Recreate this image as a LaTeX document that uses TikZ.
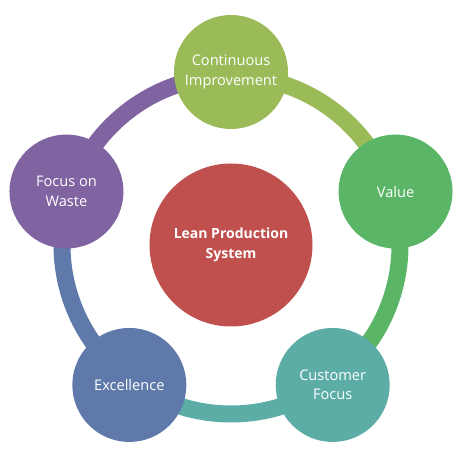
\documentclass[tikz,border=0pt]{standalone}
\usepackage{fontspec}
\setmainfont{Open Sans}
\usetikzlibrary{backgrounds}
\definecolor{cgreen}{HTML}{9BBB59}
\definecolor{cvalue}{HTML}{5AB567}
\definecolor{cteal}{HTML}{5BADA6}
\definecolor{cblue}{HTML}{5F7AAA}
\definecolor{cpurple}{HTML}{8064A2}
\definecolor{cred}{HTML}{C0504D}
\begin{document}
\begin{tikzpicture}[
  bubble/.style={circle, minimum size=114pt, inner sep=0pt, text=white, align=center,
    font=\fontsize{14.6}{19.5}\selectfont},
  hub/.style={circle, fill=cred, minimum size=163pt, inner sep=0pt, text=white, align=center,
    font=\bfseries\fontsize{14}{19.5}\selectfont},
  ring/.style={line width=17pt}
]
\useasboundingbox (0,0) rectangle (460pt,449pt);
\coordinate (c) at (231pt,204pt);
\node[hub] (hub) at (c) {Lean Production\\System};
\node[bubble, fill=cgreen] (ci) at ([shift={(90:173pt)}]c) {Continuous\\Improvement};
\node[bubble, fill=cvalue] (val) at ([shift={(18:173pt)}]c) {Value};
\node[bubble, fill=cteal] (cf) at ([shift={(-54:173pt)}]c) {Customer\\Focus};
\node[bubble, fill=cblue] (ex) at ([shift={(-126:173pt)}]c) {Excellence};
\node[bubble, fill=cpurple] (fw) at ([shift={(162:173pt)}]c) {Focus on\\Waste};
\begin{scope}[on background layer]
\draw[ring, cgreen] (hub.center) ++(90:169pt) arc[start angle=90, end angle=18, radius=169pt];
\draw[ring, cvalue] (hub.center) ++(18:169pt) arc[start angle=18, end angle=-54, radius=169pt];
\draw[ring, cteal] (hub.center) ++(-54:169pt) arc[start angle=-54, end angle=-126, radius=169pt];
\draw[ring, cblue] (hub.center) ++(-126:169pt) arc[start angle=-126, end angle=-198, radius=169pt];
\draw[ring, cpurple] (hub.center) ++(162:169pt) arc[start angle=162, end angle=90, radius=169pt];
\end{scope}
\end{tikzpicture}
\end{document}
